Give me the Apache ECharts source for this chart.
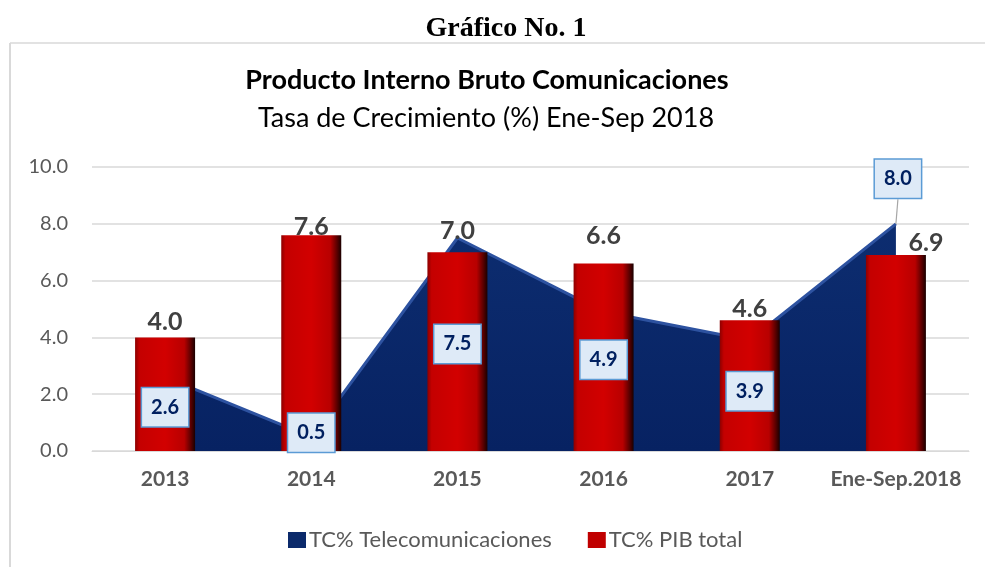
<!DOCTYPE html>
<html>
<head>
<meta charset="utf-8">
<script src="https://cdn.jsdelivr.net/npm/echarts@6/dist/echarts.min.js"></script>
<style>
html,body{margin:0;padding:0;background:#fff;}
#chart{width:985px;height:567px;}
</style>
</head>
<body>
<div id="chart"></div>
<script>
// ---- data ----
var categories = ['2013', '2014', '2015', '2016', '2017', 'Ene-Sep.2018'];
var telecomValues = [2.6, 0.5, 7.5, 4.9, 3.9, 8.0];
var pibValues = [4.0, 7.6, 7.0, 6.6, 4.6, 6.9];
var yTicks = [0, 2, 4, 6, 8, 10];
var seriesNames = ['TC% Telecomunicaciones', 'TC% PIB total'];

// ---- layout tweaks (label placement, px) ----
var telecomLabelShift = [[0, 30], [0, -4], [0, 106], [0, 48], [0, 51], [2, -45]];
var pibLabelShift = [[0, 2], [0, 9], [0, -4], [0, -10], [0, 6], [30, 5]];

var FONT = 'Lato, "Noto Sans", sans-serif';

var chart = echarts.init(document.getElementById('chart'), null, {renderer: 'canvas'});

var barGradient = new echarts.graphic.LinearGradient(0, 0, 1, 0, [
  {offset: 0, color: '#8c0000'},
  {offset: 0.07, color: '#c40000'},
  {offset: 0.5, color: '#d20000'},
  {offset: 0.82, color: '#b80000'},
  {offset: 0.93, color: '#5a0000'},
  {offset: 1, color: '#1a0000'}
]);
var areaGradient = new echarts.graphic.LinearGradient(0, 0, 0, 1, [
  {offset: 0, color: '#0d2d70'},
  {offset: 1, color: '#072262'}
]);

var option = {
  animation: false,
  backgroundColor: '#ffffff',
  graphic: [
    {type: 'line', shape: {x1: 10, y1: 43, x2: 985, y2: 43}, style: {stroke: '#d9d9d9', lineWidth: 1.5}, silent: true},
    {type: 'line', shape: {x1: 10, y1: 43, x2: 10, y2: 567}, style: {stroke: '#d9d9d9', lineWidth: 2}, silent: true},
    {type: 'text', x: 506, y: 29, style: {text: 'Gráfico No. 1', font: 'bold 28px "Liberation Serif", serif', fill: '#000', textAlign: 'center', textVerticalAlign: 'middle'}},
    {type: 'text', x: 487, y: 80, style: {text: 'Producto Interno Bruto Comunicaciones', font: 'bold 27px ' + FONT, fill: '#000', textAlign: 'center', textVerticalAlign: 'middle'}},
    {type: 'text', x: 486, y: 118, style: {text: 'Tasa de Crecimiento (%) Ene-Sep 2018', font: '27px ' + FONT, fill: '#000', textAlign: 'center', textVerticalAlign: 'middle'}}
  ],
  legend: {
    data: [
      {name: seriesNames[0], icon: 'rect', itemStyle: {color: '#0b2a6b'}},
      {name: seriesNames[1], icon: 'rect', itemStyle: {color: '#c00000'}}
    ],
    left: 283,
    top: 524,
    itemWidth: 18,
    itemHeight: 16,
    itemGap: 36,
    textStyle: {fontFamily: FONT, fontSize: 22, color: '#595959', padding: [0, 0, 0, -2]}
  },
  grid: {left: 92, right: 16, top: 167, bottom: 116, containLabel: false},
  xAxis: {
    type: 'category',
    data: categories,
    boundaryGap: true,
    axisLine: {show: true, lineStyle: {color: '#d9d9d9', width: 1}},
    axisTick: {show: false},
    axisLabel: {fontFamily: FONT, fontWeight: 'bold', fontSize: 21, color: '#595959', margin: 18, interval: 0}
  },
  yAxis: {
    type: 'value',
    min: yTicks[0],
    max: yTicks[yTicks.length - 1],
    interval: yTicks[1] - yTicks[0],
    axisLine: {show: false},
    axisTick: {show: false},
    splitLine: {lineStyle: {color: '#d9d9d9', width: 1.5}},
    axisLabel: {fontFamily: FONT, fontSize: 20, color: '#595959', margin: 24,
      formatter: function (v) { return v.toFixed(1); }}
  },
  series: [
    {
      name: seriesNames[0],
      type: 'line',
      data: telecomValues,
      z: 1,
      symbol: 'none',
      color: '#0b2a6b',
      lineStyle: {color: '#2d52a0', width: 3},
      areaStyle: {color: areaGradient, opacity: 1},
      silent: true
    },
    {
      name: seriesNames[1],
      type: 'bar',
      z: 2,
      barWidth: 60,
      color: '#c00000',
      data: pibValues.map(function (v, i) {
        return {value: v, label: {offset: pibLabelShift[i]}};
      }),
      itemStyle: {color: barGradient},
      label: {
        show: true,
        position: 'top',
        distance: 5,
        fontFamily: FONT,
        fontWeight: 'bold',
        fontSize: 25,
        color: '#404040',
        formatter: function (p) { return p.value.toFixed(1); }
      }
    },
    {
      name: 'labels',
      type: 'line',
      z: 5,
      data: telecomValues.map(function (v, i) {
        return i === telecomValues.length - 1
          ? {value: v, labelLine: {show: true, lineStyle: {color: '#a6a6a6', width: 1.2}}}
          : {value: v};
      }),
      symbol: 'circle',
      symbolSize: 0.1,
      itemStyle: {color: 'rgba(0,0,0,0)'},
      lineStyle: {opacity: 0},
      silent: true,
      labelLayout: function (p) {
        var s = telecomLabelShift[p.dataIndex];
        return {dx: s[0], dy: s[1]};
      },
      label: {
        show: true,
        position: 'inside',
        fontFamily: FONT,
        fontWeight: 'bold',
        fontSize: 20,
        lineHeight: 22,
        color: '#002060',
        backgroundColor: '#deeaf7',
        borderColor: '#5b9bd5',
        borderWidth: 1.5,
        padding: [8, 9, 8, 9],
        formatter: function (p) { return p.value.toFixed(1); }
      }
    }
  ]
};
chart.setOption(option);
</script>
</body>
</html>
